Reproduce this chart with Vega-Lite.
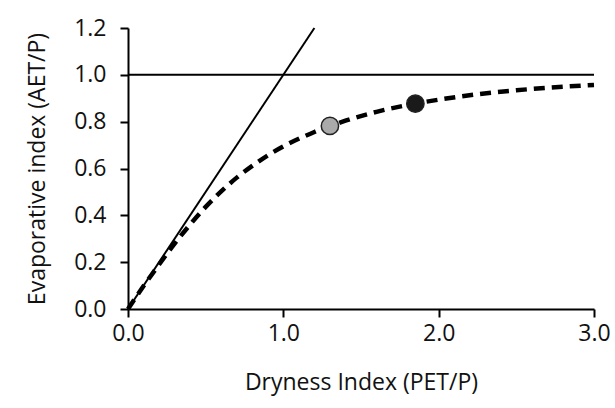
{
  "$schema": "https://vega.github.io/schema/vega-lite/v6.json",
  "autosize": "none",
  "width": 466,
  "height": 281,
  "padding": {"left": 128, "top": 28, "right": 21, "bottom": 99},
  "background": "white",
  "config": {
    "view": {"stroke": null},
    "font": "Open Sans"
  },
  "datasets": {
    "budyko": [
      {"x": 0, "y": 0},
      {"x": 0.1, "y": 0.098},
      {"x": 0.2, "y": 0.19},
      {"x": 0.3, "y": 0.279},
      {"x": 0.4, "y": 0.361},
      {"x": 0.5, "y": 0.436},
      {"x": 0.6, "y": 0.502},
      {"x": 0.7, "y": 0.561},
      {"x": 0.8, "y": 0.611},
      {"x": 0.9, "y": 0.656},
      {"x": 1.0, "y": 0.694},
      {"x": 1.2, "y": 0.756},
      {"x": 1.4, "y": 0.804},
      {"x": 1.6, "y": 0.842},
      {"x": 1.8, "y": 0.871},
      {"x": 2.0, "y": 0.894},
      {"x": 2.25, "y": 0.917},
      {"x": 2.5, "y": 0.934},
      {"x": 2.75, "y": 0.947},
      {"x": 3.0, "y": 0.957}
    ],
    "energy": [{"x": 0, "y": 0}, {"x": 1.2, "y": 1.2}],
    "water": [{"x": 0, "y": 1.0}, {"x": 3.0, "y": 1.0}],
    "points": [
      {"x": 1.3, "y": 0.782, "c": "a"},
      {"x": 1.85, "y": 0.877, "c": "b"}
    ]
  },
  "layer": [
    {
      "data": {"name": "water"},
      "mark": {"type": "line", "color": "black", "strokeWidth": 2},
      "encoding": {
        "x": {"field": "x", "type": "quantitative", "scale": {"domain": [0, 3]},
          "axis": {"values": [0, 1, 2, 3], "format": ".1f", "title": "Dryness Index (PET/P)", "zindex": 1,
            "grid": false, "domain": true, "ticks": true, "domainColor": "#000000", "domainWidth": 2,
            "tickColor": "#000000", "tickWidth": 2, "tickSize": 8, "labelFlush": false,
            "labelFont": "Open Sans", "labelFontSize": 23, "labelColor": "#111111",
            "titleFont": "Open Sans", "titleFontSize": 23, "titleFontWeight": "normal", "titleColor": "#111111",
            "titlePadding": 26, "labelPadding": 5}},
        "y": {"field": "y", "type": "quantitative", "scale": {"domain": [0, 1.2]},
          "axis": {"values": [0, 0.2, 0.4, 0.6, 0.8, 1.0, 1.2], "format": ".1f", "title": "Evaporative index (AET/P)", "zindex": 1,
            "grid": false, "domain": true, "ticks": true, "domainColor": "#000000", "domainWidth": 2,
            "tickColor": "#000000", "tickWidth": 2, "tickSize": 8, "labelFlush": false,
            "labelFont": "Open Sans", "labelFontSize": 23, "labelColor": "#111111",
            "titleFont": "Open Sans", "titleFontSize": 23, "titleFontWeight": "normal", "titleColor": "#111111",
            "titlePadding": 24, "labelPadding": 14}}
      }
    },
    {
      "data": {"name": "energy"},
      "mark": {"type": "line", "color": "black", "strokeWidth": 2},
      "encoding": {
        "x": {"field": "x", "type": "quantitative"},
        "y": {"field": "y", "type": "quantitative"}
      }
    },
    {
      "data": {"name": "budyko"},
      "mark": {"type": "line", "color": "black", "strokeWidth": 4.5, "strokeDash": [11, 7], "interpolate": "monotone"},
      "encoding": {
        "x": {"field": "x", "type": "quantitative"},
        "y": {"field": "y", "type": "quantitative"}
      }
    },
    {
      "data": {"name": "points"},
      "mark": {"type": "point", "filled": true, "size": 300, "opacity": 1, "stroke": "#222", "strokeWidth": 1.5},
      "encoding": {
        "x": {"field": "x", "type": "quantitative"},
        "y": {"field": "y", "type": "quantitative"},
        "fill": {"field": "c", "type": "nominal", "scale": {"domain": ["a", "b"], "range": ["#aaaaaa", "#1a1a1a"]}, "legend": null}
      }
    }
  ]
}
